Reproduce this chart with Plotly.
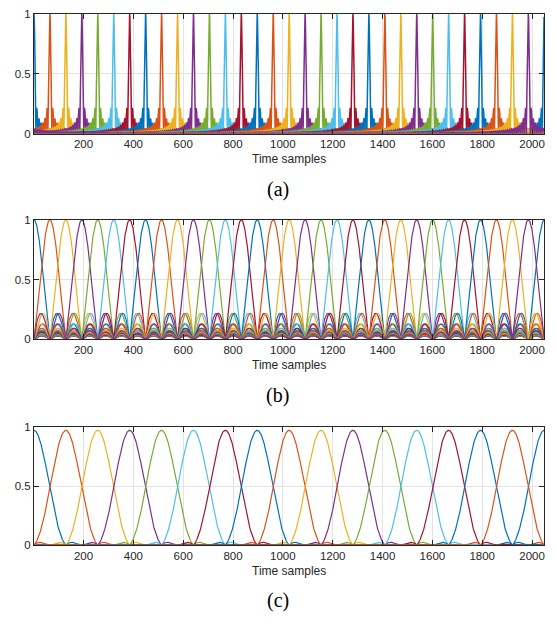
import numpy as np
import plotly.graph_objects as go

# ---------------- data ----------------
L = 2048  # number of time samples
samples = np.arange(1, L + 1)

# filter centre positions (time samples)
centers_a = [1, 65, 129, 193, 257, 321, 385, 449, 513, 577, 641, 705, 769, 833, 897, 961,
             1025, 1089, 1153, 1217, 1281, 1345, 1409, 1473, 1537, 1601, 1665, 1729, 1793,
             1857, 1921, 1985]
centers_b = list(centers_a)
centers_c = [1, 129, 257, 385, 513, 641, 769, 897, 1025, 1153, 1281, 1409, 1537, 1665,
             1793, 1921]

# kernel parameters
lobes_a = 256      # narrow main lobes (zero at 8 samples)
lobes_b = 32       # main lobe zero at 64 samples
lobes_c = 32       # Hann-weighted kernel, zero at 128 samples
peak_c = 0.97

xticks = [200, 400, 600, 800, 1000, 1200, 1400, 1600, 1800, 2000]
yticks = [0, 0.5, 1]
yticktext = ["0", "0.5", "1"]
panel_labels = ["(a)", "(b)", "(c)"]
xlabel = "Time samples"

COLORS = ["#0072BD", "#D95319", "#EDB120", "#7E2F8E", "#77AC30", "#4DBEEE", "#A2142F"]


def offset(c):
    return ((samples - c + L / 2) % L) - L / 2


def dirichlet(d, n):
    d = np.asarray(d, dtype=float)
    s = np.sin(np.pi * d / L)
    out = np.ones_like(d)
    nz = np.abs(s) > 1e-12
    out[nz] = np.sin(np.pi * n * d[nz] / L) / (n * s[nz])
    return out


def resp_a(c):
    return np.abs(dirichlet(offset(c), lobes_a))


def resp_b(c):
    return np.abs(dirichlet(offset(c), lobes_b))


def resp_c(c):
    d = offset(c)
    B = L / lobes_c
    h = 0.5 * dirichlet(d, lobes_c) + 0.25 * dirichlet(d - B, lobes_c) + 0.25 * dirichlet(d + B, lobes_c)
    return peak_c * np.abs(h) / 0.5


# ---------------- layout geometry (pixels) ----------------
W, H = 557, 624
x_left, x_right = 34, 545
panels = [(8, 130), (218, 340), (429, 550)]
label_y = [187, 397, 606]
title_y = [156, 366, 576]
line_w = [1.5, 1.2, 1.2]

fig = go.Figure()
TEXT = "#262626"
FONT = "Liberation Sans, Arial, Helvetica, sans-serif"

specs = [(centers_a, resp_a), (centers_b, resp_b), (centers_c, resp_c)]
for i, (centers, fn) in enumerate(specs):
    sfx = "" if i == 0 else str(i + 1)
    for k, c in enumerate(centers):
        col = COLORS[k % 7]
        fig.add_trace(go.Scatter(
            x=samples, y=fn(c), mode="lines",
            line=dict(color=col, width=line_w[i]),
            xaxis="x" + sfx, yaxis="y" + sfx, hoverinfo="skip",
        ))
    ytop, ybot = panels[i]
    axcommon = dict(
        showline=True, linecolor=TEXT, linewidth=1, mirror="ticks",
        ticks="inside", ticklen=5, tickcolor=TEXT, tickwidth=1,
        showgrid=True, gridcolor="#e3e3e3", gridwidth=1, zeroline=False,
        tickfont=dict(family=FONT, size=11.5, color=TEXT),
    )
    fig.update_layout(**{
        "xaxis" + sfx: dict(
            axcommon, domain=[x_left / W, x_right / W], range=[1, L],
            tickvals=xticks, anchor="y" + sfx,
        ),
        "yaxis" + sfx: dict(
            axcommon, domain=[1 - ybot / H, 1 - ytop / H], range=[0, 1],
            tickvals=yticks, ticktext=yticktext, anchor="x" + sfx,
        ),
    })
    fig.add_annotation(
        x=(x_left + x_right) / 2 / W, y=1 - title_y[i] / H, xref="paper", yref="paper",
        text=xlabel, showarrow=False, xanchor="center", yanchor="middle",
        font=dict(family=FONT, size=12, color=TEXT),
    )
    fig.add_annotation(
        x=278 / W, y=1 - label_y[i] / H, xref="paper", yref="paper",
        text=panel_labels[i], showarrow=False, xanchor="center", yanchor="middle",
        font=dict(family="Liberation Serif, Times New Roman, serif", size=20, color="#000000"),
    )

fig.update_layout(
    width=W, height=H, margin=dict(l=0, r=0, t=0, b=0),
    paper_bgcolor="white", plot_bgcolor="white", showlegend=False,
)

fig.write_html("out.html")
